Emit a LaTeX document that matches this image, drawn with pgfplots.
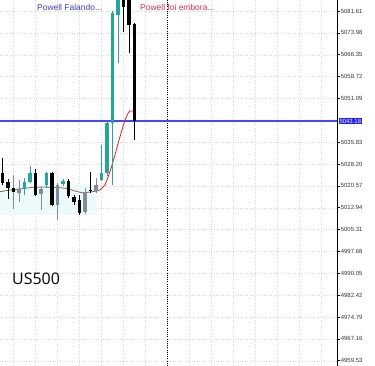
\documentclass[border=0pt]{standalone}
\usepackage{pgfplots}
\pgfplotsset{compat=1.18}
\usepackage{pgfplotstable}
\usepackage{fontspec}
\setmainfont{Liberation Sans}
\newfontfamily\usfont{Open Sans}
\definecolor{cteal}{RGB}{38,166,154}
\definecolor{cslate}{RGB}{125,138,160}
\definecolor{cbrown}{RGB}{140,100,55}
\definecolor{cred}{RGB}{228,30,36}
\definecolor{cblue}{RGB}{60,60,215}
\definecolor{ccrim}{RGB}{228,40,85}
\definecolor{pline}{RGB}{70,70,250}
\definecolor{cbox}{RGB}{30,30,240}
\definecolor{ccyan}{RGB}{236,250,250}

\pgfplotstableread{
x O H L C
4 5019.47 5023.31 5017.37 5021.91
5 5022.02 5027.50 5021.56 5025.16
8 5020.87 5025.40 5019.82 5025.06
11 5021.22 5022.96 5020.52 5022.26
18 5022.61 5034.83 5022.26 5025.06
19 5025.06 5042.86 5024.01 5042.51
20 5042.51 5081.61 5020.87 5080.91
21 5080.21 5088.94 5063.46 5087.20
}\tealdata

\pgfplotstableread{
x O H L C
0 5025.16 5030.19 5020.87 5021.46
1 5022.02 5022.96 5015.98 5019.92
2 5019.82 5019.82 5018.42 5018.42
6 5025.06 5026.45 5017.03 5017.37
9 5025.06 5025.40 5013.54 5013.89
12 5022.26 5022.96 5016.33 5017.03
13 5016.68 5017.37 5013.89 5014.93
14 5015.63 5017.37 5010.39 5011.09
16 5019.12 5025.40 5018.07 5018.60
22 5087.20 5088.94 5074.28 5083.01
23 5087.20 5088.94 5066.95 5076.72
24 5077.07 5077.42 5036.58 5043.18
}\blackdata

\pgfplotstableread{
x O H L C
2 5018.42 5024.36 5012.49 5018.42
3 5019.47 5022.61 5014.93 5018.07
7 5019.47 5020.17 5012.14 5017.72
10 5020.87 5021.56 5008.65 5013.89
15 5018.42 5019.82 5010.74 5011.44
17 5018.77 5023.31 5018.07 5020.87
}\slatedata

\pgfplotstableread{
x y
-0.4545 5043.18
60.82 5043.18
}\pricedata

\pgfplotsset{
  wick/.style={draw=none, mark=none, forget plot,
    error bars/.cd, y dir=plus, y explicit, error mark=none,
    error bar style={draw=#1, solid, line width=0.9bp}},
  body/.style={draw=none, mark=none, forget plot,
    error bars/.cd, y dir=plus, y explicit, error mark=none,
    error bar style={draw=#1, solid, line width=3.4bp}},
}

\begin{document}
\begin{tikzpicture}
\begin{axis}[
  at={(0,0)}, anchor=south west,
  scale only axis, width=337bp, height=366bp,
  xmin=-0.4545, xmax=60.82,
  ymin=4957.68, ymax=5085.45,
  clip mode=individual,
  axis line style={draw=none},
  xtick={2,6,...,58}, xticklabels={}, xtick style={draw=none},
  ytick={4959.53,4967.16,4974.79,4982.42,4990.05,4997.68,5005.31,5012.94,5020.57,5028.20,5035.83,5051.09,5058.72,5066.35,5073.98,5081.61},
  yticklabels={4959.53,4967.16,4974.79,4982.42,4990.05,4997.68,5005.31,5012.94,5020.57,5028.20,5035.83,5051.09,5058.72,5066.35,5073.98,5081.61},
  ytick pos=right, yticklabel pos=right,
  tick align=outside, major tick length=3bp,
  ytick style={draw=black, line width=0.5bp},
  yticklabel style={anchor=west, inner sep=0.6bp, text=black!80, font=\fontsize{6}{7}\selectfont},
  /pgf/number format/assume math mode=true,
  xmajorgrids, ymajorgrids,
  grid style={draw=black!15, dash pattern=on 0.8bp off 1.6bp, line width=0.4bp},
]
% faint cyan zone
\addplot[fill=ccyan, draw=none, forget plot] coordinates {(-0.4545,5010.39) (17.2,5010.39) (17.2,5020.87) (-0.4545,5020.87)} -- cycle;

% event line
\addplot[black, line width=0.6bp, dash pattern=on 1bp off 1.2bp, forget plot] coordinates {(30,4957.68) (30,5085.45)};

% price line
\addplot[draw=pline, solid, line width=1.3bp, mark=none, forget plot] table[x=x, y=y] {\pricedata};

% moving average
\addplot[cbrown, line width=0.8bp, forget plot] coordinates {
(-0.4545,5018.53) (1.364,5019.12) (3.182,5019.47) (5.545,5020.06) (7.727,5020.17)
(10.455,5019.92) (11.727,5019.64) (13.18,5018.77) (14.64,5018.07) (15.91,5018.42)
(17.18,5018.77) (17.73,5019.12)};
\addplot[cred, line width=0.8bp, forget plot] coordinates {
(17.73,5019.12) (18.64,5020.87) (19.55,5025.51) (20.45,5031.34) (21.36,5037.73)
(22.27,5043.56) (22.87,5046.11) (23.18,5046.70) (24.09,5046.70)};

% candles: slate
\addplot[wick=cslate] table[x=x, y=L, y error plus expr={\thisrow{H}-\thisrow{L}}] {\slatedata};
\addplot[body=cslate] table[x=x, y expr={min(\thisrow{O},\thisrow{C})}, y error plus expr={abs(\thisrow{C}-\thisrow{O})}] {\slatedata};
% candles: black
\addplot[wick=black] table[x=x, y=L, y error plus expr={\thisrow{H}-\thisrow{L}}] {\blackdata};
\addplot[body=black] table[x=x, y expr={min(\thisrow{O},\thisrow{C})}, y error plus expr={abs(\thisrow{C}-\thisrow{O})}] {\blackdata};
% candles: teal
\addplot[wick=cteal] table[x=x, y=L, y error plus expr={\thisrow{H}-\thisrow{L}}] {\tealdata};
\addplot[body=cteal] table[x=x, y expr={min(\thisrow{O},\thisrow{C})}, y error plus expr={abs(\thisrow{C}-\thisrow{O})}] {\tealdata};

% right axis line
\draw[black, line width=0.7bp] (rel axis cs:1,0) -- (rel axis cs:1,1);

% texts
\node[anchor=west, inner sep=0, text=cblue, font=\fontsize{8.5}{9}\selectfont] at (axis cs:6.27,5083.0) {Powell Falando...};
\node[anchor=west, inner sep=0, text=ccrim, font=\fontsize{8.5}{9}\selectfont] at (axis cs:25.0,5083.0) {Powell foi embora...};
\node[anchor=west, inner sep=0, text=black, font=\usfont\fontsize{16}{18}\selectfont] at (axis cs:1.73,4988.05) {US500};
\node[anchor=west, fill=cbox, text=white, inner xsep=0.8bp, inner ysep=0.9bp, xshift=1.5bp, font=\fontsize{6}{7}\selectfont] at (axis cs:60.82,5043.18) {5043.18};
\end{axis}
\pgfresetboundingbox
\useasboundingbox (0,0) rectangle (375bp,366bp);
\end{tikzpicture}
\end{document}
